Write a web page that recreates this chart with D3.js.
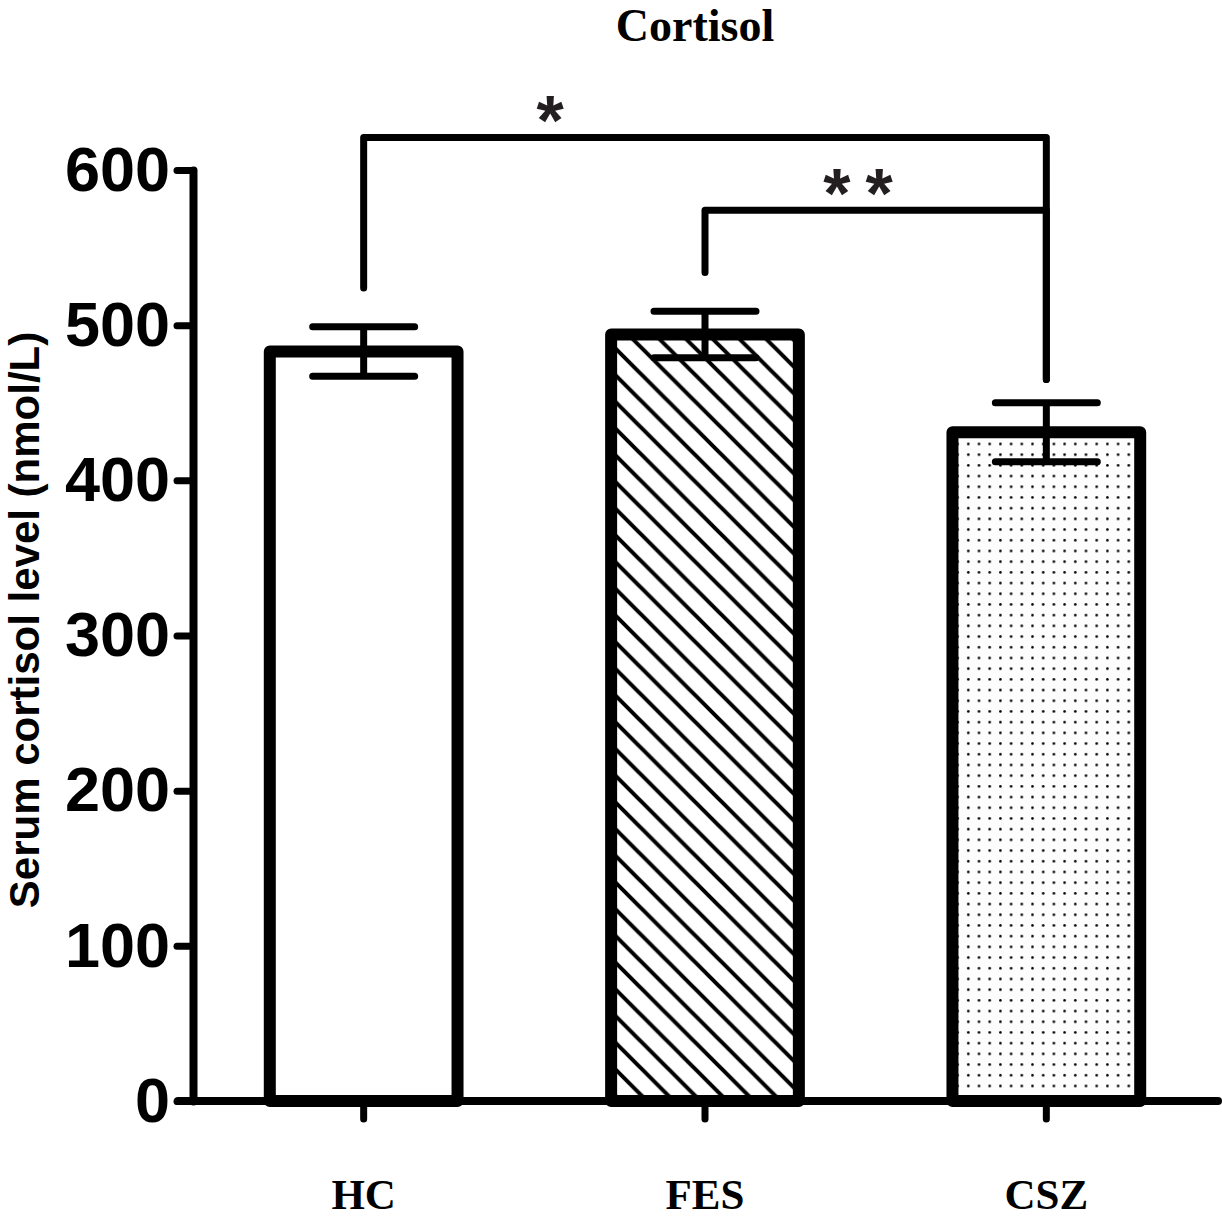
<!DOCTYPE html>
<html>
<head>
<meta charset="utf-8">
<script src="https://cdn.jsdelivr.net/npm/d3@7"></script>
<style>
  body { margin: 0; background: #fff; }
  svg { display: block; }
</style>
</head>
<body>
<svg id="chart"></svg>
<script>
// groups, means and SEM
const groups = ['HC', 'FES', 'CSZ'];
const means = [483, 494, 431];
const sems = [16, 15, 19];
const fills = ['white', 'url(#hatch)', 'url(#dots)'];
const yTicks = [0, 100, 200, 300, 400, 500, 600];

// significance brackets (values in nmol/L)
const compFrom = ['HC', 'FES'];
const compTo = ['CSZ', 'CSZ'];
const compTop = [621, 574];
const compFromEnd = [524, 534];
const compToEnd = [465, 465];
const compLabel = ['*', '**'];
const compLabelPos = [0.273, 0.47];

const width = 1222;
const height = 1222;

const svg = d3.select('#chart')
  .attr('width', width)
  .attr('height', height);

// patterns
const defs = svg.append('defs');
const hatch = defs.append('pattern')
  .attr('id', 'hatch')
  .attr('patternUnits', 'userSpaceOnUse')
  .attr('width', 26.7)
  .attr('height', 26.7);
hatch.append('rect').attr('width', 26.7).attr('height', 26.7).attr('fill', '#fff');
hatch.append('path')
  .attr('d', 'M0,0L26.7,26.7M-6.7,20L6.7,33.4M20,-6.7L33.4,6.7')
  .attr('stroke', '#000')
  .attr('stroke-width', 4);

const dots = defs.append('pattern')
  .attr('id', 'dots')
  .attr('patternUnits', 'userSpaceOnUse')
  .attr('width', 10.7)
  .attr('height', 10.7);
dots.append('rect').attr('width', 10.7).attr('height', 10.7).attr('fill', '#fdfdfd');
dots.append('circle')
  .attr('cx', 5.3).attr('cy', 5.3).attr('r', 1.3)
  .attr('fill', '#000');

// scales
const x = d3.scaleBand()
  .domain(groups)
  .range([193, 1217])
  .paddingInner(0.45)
  .paddingOuter(0.225);

const y = d3.scaleLinear()
  .domain([0, 600])
  .range([1101, 170]);

const cx = g => x(g) + x.bandwidth() / 2;

// bars
svg.append('g')
  .selectAll('rect')
  .data(groups)
  .join('rect')
  .attr('x', d => x(d))
  .attr('y', (d, i) => y(means[i]))
  .attr('width', x.bandwidth())
  .attr('height', (d, i) => y(0) - y(means[i]))
  .attr('fill', (d, i) => fills[i])
  .attr('stroke', '#000')
  .attr('stroke-width', 12)
  .attr('stroke-linejoin', 'round');

// error bars
const capW = 51;
const err = svg.append('g')
  .attr('stroke', '#000')
  .attr('stroke-width', 7)
  .attr('stroke-linecap', 'round')
  .attr('fill', 'none');

err.selectAll('path')
  .data(groups)
  .join('path')
  .attr('d', (d, i) => {
    const c = cx(d);
    const hi = y(means[i] + sems[i]);
    const lo = y(means[i] - sems[i]);
    return `M${c},${hi}L${c},${lo}M${c - capW},${hi}L${c + capW},${hi}M${c - capW},${lo}L${c + capW},${lo}`;
  });

// y axis
const yAxis = d3.axisLeft(y)
  .tickValues(yTicks)
  .tickSize(16)
  .tickSizeOuter(0)
  .tickPadding(7);

const gy = svg.append('g')
  .attr('transform', 'translate(193,0)')
  .call(yAxis);
gy.select('.domain').attr('stroke-width', 8).attr('stroke-linecap', 'round');
gy.selectAll('.tick line').attr('stroke-width', 7).attr('stroke-linecap', 'round');
gy.selectAll('.tick text')
  .attr('font-family', '"Liberation Sans", Arial, sans-serif')
  .attr('font-weight', 'bold')
  .attr('font-size', 63)
  .attr('fill', '#000');

// x axis
const xAxis = d3.axisBottom(x)
  .tickSize(18)
  .tickSizeOuter(0);

const gx = svg.append('g')
  .attr('transform', `translate(0,${y(0)})`)
  .call(xAxis);
gx.select('.domain').remove();
gx.append('line')
  .attr('x1', 178)
  .attr('x2', 1218)
  .attr('stroke', '#000')
  .attr('stroke-width', 8)
  .attr('stroke-linecap', 'round');
gx.selectAll('.tick line').attr('stroke-width', 7).attr('stroke-linecap', 'round');
gx.selectAll('.tick text')
  .attr('y', 108)
  .attr('dy', 0)
  .attr('font-family', '"Liberation Serif", "Times New Roman", serif')
  .attr('font-weight', 'bold')
  .attr('font-size', 43)
  .attr('fill', '#000');

// significance brackets
const br = svg.append('g');
compLabel.forEach((lab, i) => {
  const x1 = cx(compFrom[i]);
  const x2 = cx(compTo[i]);
  const yt = y(compTop[i]);
  br.append('path')
    .attr('d', `M${x1},${y(compFromEnd[i])}L${x1},${yt}L${x2},${yt}L${x2},${y(compToEnd[i])}`)
    .attr('fill', 'none')
    .attr('stroke', '#000')
    .attr('stroke-width', 7)
    .attr('stroke-linecap', 'round')
    .attr('stroke-linejoin', 'round');
  br.append('text')
    .attr('x', x1 + (x2 - x1) * compLabelPos[i])
    .attr('y', yt + 8)
    .attr('text-anchor', 'middle')
    .attr('font-family', '"Liberation Sans", Arial, sans-serif')
    .attr('font-weight', 'bold')
    .attr('font-size', 70)
    .attr('letter-spacing', i === 1 ? 15 : 0)
    .attr('fill', '#231f20')
    .text(lab);
});

// title
svg.append('text')
  .attr('x', 695)
  .attr('y', 41)
  .attr('text-anchor', 'middle')
  .attr('font-family', '"Liberation Serif", "Times New Roman", serif')
  .attr('font-weight', 'bold')
  .attr('font-size', 46)
  .text('Cortisol');

// y label
svg.append('text')
  .attr('transform', 'translate(39,620) rotate(-90)')
  .attr('text-anchor', 'middle')
  .attr('font-family', '"Liberation Sans", Arial, sans-serif')
  .attr('font-weight', 'bold')
  .attr('font-size', 42)
  .text('Serum cortisol level (nmol/L)');
</script>
</body>
</html>
